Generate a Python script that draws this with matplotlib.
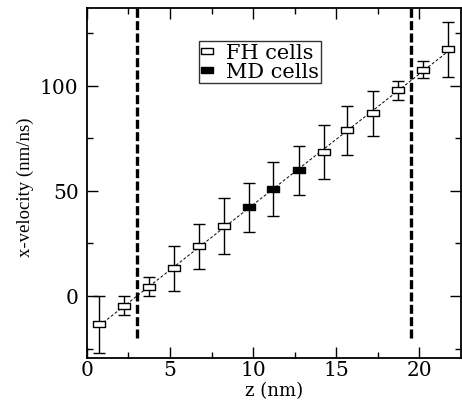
import numpy as np
import matplotlib.pyplot as plt
from matplotlib.path import Path

# FH cells (open squares)
z_fh = [0.76, 2.24, 3.76, 5.24, 6.74, 8.25, 14.25, 15.66, 17.22, 18.72, 20.2, 21.72]
v_fh = [-13.5, -4.6, 4.4, 13.2, 23.7, 33.2, 68.5, 78.8, 86.9, 97.8, 107.7, 117.3]
e_fh = [13.5, 4.5, 4.5, 10.6, 10.7, 13.4, 12.8, 11.8, 10.7, 4.4, 4.2, 13.0]

# MD cells (filled squares)
z_md = [9.75, 11.2, 12.75]
v_md = [42.1, 50.9, 59.7]
e_md = [11.8, 12.7, 11.5]

# boundaries of the MD region
z_walls = [3.0, 19.5]

rect = Path([(-1, -0.6), (1, -0.6), (1, 0.6), (-1, 0.6), (-1, -0.6)],
            [Path.MOVETO, Path.LINETO, Path.LINETO, Path.LINETO, Path.CLOSEPOLY])

fig = plt.figure(figsize=(4.62, 4.02), dpi=100)
ax = fig.add_axes([0.188, 0.107, 0.8095, 0.8706])

# linear fit through all cells
z_all = np.array(z_fh + z_md)
v_all = np.array(v_fh + v_md)
k, b = np.polyfit(z_all, v_all, 1)
zf = np.array([min(z_all), max(z_all)])
ax.plot(zf, k * zf + b, color='black', lw=0.7, ls=(0, (3, 2)), zorder=1)

for zw in z_walls:
    ax.plot([zw, zw], [-20, 140], color='black', lw=2.4, dashes=(2.7, 1.0), zorder=2)

ax.errorbar(z_fh, v_fh, yerr=e_fh, fmt='none', ecolor='black', elinewidth=1.0,
            capsize=4, capthick=1.0, zorder=3)
ax.errorbar(z_md, v_md, yerr=e_md, fmt='none', ecolor='black', elinewidth=1.0,
            capsize=4, capthick=1.0, zorder=3)
ax.plot(z_fh, v_fh, ls='none', marker=rect, ms=8, mfc='white', mec='black',
        mew=1.0, label='FH cells', zorder=4)
ax.plot(z_md, v_md, ls='none', marker=rect, ms=8, mfc='black', mec='black',
        mew=1.0, label='MD cells', zorder=4)

ax.set_xlim(0, 22.5)
ax.set_ylim(-29.5, 137)
ax.set_xticks([0, 5, 10, 15, 20])
ax.set_xticks(np.arange(2.5, 22.5, 5), minor=True)
ax.set_yticks([0, 50, 100])
ax.set_yticks([-25, 25, 75, 125], minor=True)

ax.tick_params(which='both', direction='in', top=True, right=True, width=1.0)
ax.tick_params(which='major', length=8)
ax.tick_params(which='minor', length=4)
ax.tick_params(axis='x', pad=1.5)
ax.tick_params(axis='y', pad=6)
for lab in ax.get_xticklabels() + ax.get_yticklabels():
    lab.set_family('DejaVu Serif')
    lab.set_fontsize(14.5)
for sp in ax.spines.values():
    sp.set_linewidth(1.3)

ax.set_xlabel('z (nm)', family='DejaVu Serif', fontsize=13)
ax.xaxis.set_label_coords(0.5, -0.066)
ax.set_ylabel('x-velocity (nm/ns)', family='Liberation Serif', fontsize=13.5)
ax.yaxis.set_label_coords(-0.14, 0.49)

leg = ax.legend(loc='upper left', bbox_to_anchor=(0.2995, 0.905), frameon=True,
                fancybox=False, edgecolor='black', prop={'family': 'DejaVu Serif', 'size': 15},
                labelspacing=0.0, handlelength=0.6, handletextpad=0.6,
                borderpad=0.1, borderaxespad=0)
leg.get_frame().set_linewidth(1.0)

fig.savefig('out.png', dpi=100)
